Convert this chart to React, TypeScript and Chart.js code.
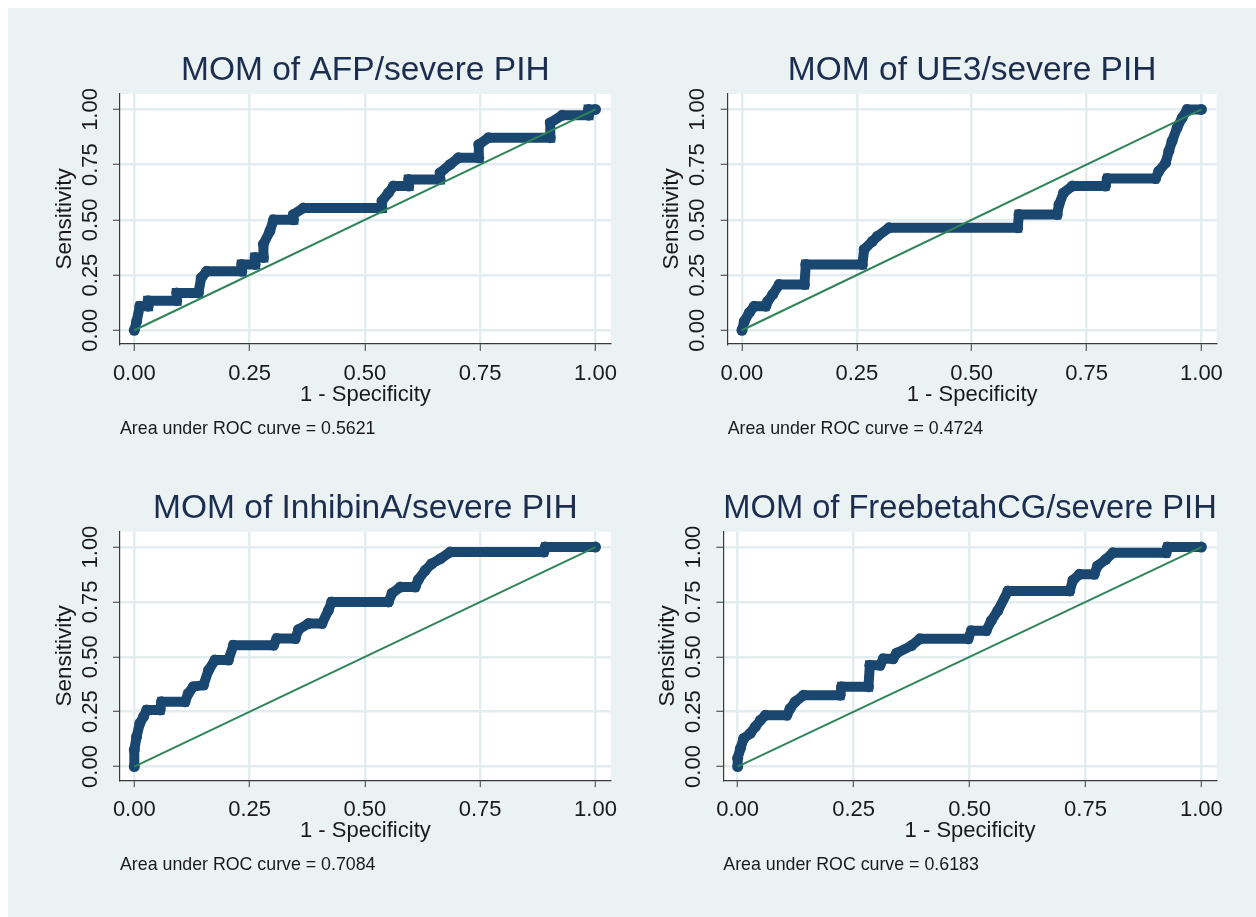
import React, { useEffect, useRef } from "react";
import { Chart, registerables } from "chart.js";

Chart.register(...registerables);
Chart.defaults.font.family = "'Liberation Sans', Arial, sans-serif";

// ---- data -------------------------------------------------------------
const MARKERS = ["AFP", "UE3", "InhibinA", "FreebetahCG"];
const AUC_VALUES = ["0.5621", "0.4724", "0.7084", "0.6183"];
const TICK_VALUES = [0, 0.25, 0.5, 0.75, 1];
const DIAGONAL_X = [0, 1];
const DIAGONAL_Y = [0, 1];

const AFP_FPR = [0, 0.005, 0.012, 0.03, 0.03, 0.092, 0.092, 0.139, 0.145, 0.157, 0.233, 0.233, 0.262, 0.262, 0.28, 0.28, 0.294, 0.302, 0.345, 0.345, 0.367, 0.537, 0.537, 0.551, 0.562, 0.595, 0.595, 0.663, 0.663, 0.685, 0.703, 0.747, 0.747, 0.768, 0.902, 0.902, 0.928, 0.985, 0.985, 1];
const AFP_SENS = [0, 0.04, 0.109, 0.109, 0.134, 0.134, 0.169, 0.169, 0.237, 0.267, 0.267, 0.298, 0.298, 0.33, 0.33, 0.39, 0.449, 0.5, 0.5, 0.524, 0.554, 0.554, 0.585, 0.622, 0.653, 0.653, 0.683, 0.683, 0.713, 0.751, 0.781, 0.781, 0.841, 0.872, 0.872, 0.94, 0.974, 0.974, 1, 1];

const UE3_FPR = [0, 0.005, 0.016, 0.027, 0.052, 0.056, 0.067, 0.081, 0.136, 0.139, 0.262, 0.266, 0.284, 0.295, 0.32, 0.6, 0.603, 0.686, 0.69, 0.7, 0.719, 0.791, 0.795, 0.9, 0.907, 0.922, 0.929, 0.936, 0.947, 0.958, 0.969, 1];
const UE3_SENS = [0, 0.04, 0.08, 0.109, 0.109, 0.131, 0.162, 0.207, 0.207, 0.298, 0.298, 0.366, 0.403, 0.426, 0.464, 0.464, 0.524, 0.524, 0.569, 0.622, 0.653, 0.653, 0.687, 0.687, 0.72, 0.758, 0.811, 0.856, 0.917, 0.962, 1, 1];

const INHIBINA_FPR = [0, 0, 0.005, 0.012, 0.02, 0.027, 0.056, 0.059, 0.11, 0.117, 0.128, 0.15, 0.161, 0.175, 0.204, 0.215, 0.302, 0.309, 0.349, 0.356, 0.378, 0.407, 0.421, 0.428, 0.551, 0.559, 0.577, 0.609, 0.616, 0.631, 0.645, 0.664, 0.685, 0.888, 0.891, 1];
const INHIBINA_SENS = [0, 0.076, 0.136, 0.197, 0.227, 0.258, 0.258, 0.295, 0.295, 0.333, 0.364, 0.371, 0.439, 0.485, 0.485, 0.553, 0.553, 0.583, 0.583, 0.624, 0.652, 0.652, 0.712, 0.75, 0.75, 0.79, 0.818, 0.818, 0.852, 0.894, 0.924, 0.947, 0.977, 0.977, 1, 1];

const FREEBHCG_FPR = [0, 0, 0.006, 0.013, 0.027, 0.038, 0.049, 0.06, 0.106, 0.113, 0.124, 0.142, 0.221, 0.224, 0.282, 0.285, 0.307, 0.314, 0.335, 0.343, 0.375, 0.393, 0.497, 0.504, 0.536, 0.547, 0.561, 0.583, 0.716, 0.723, 0.737, 0.769, 0.776, 0.794, 0.809, 0.924, 0.927, 1];
const FREEBHCG_SENS = [0, 0.038, 0.083, 0.128, 0.151, 0.181, 0.211, 0.234, 0.234, 0.264, 0.295, 0.325, 0.325, 0.363, 0.363, 0.461, 0.461, 0.491, 0.491, 0.517, 0.551, 0.582, 0.582, 0.619, 0.619, 0.665, 0.71, 0.8, 0.8, 0.849, 0.876, 0.876, 0.914, 0.944, 0.974, 0.974, 1, 1];

// ---- style ------------------------------------------------------------
const PAGE_BG = "#eaf2f3";
const GRID = "#e3ecef";
const AXIS = "#3a3a3a";
const NAVY = "#1a476f";
const GREEN = "#2f845a";
const TITLE_COLOR = "#1c2d4f";
const TEXT = "#1a1a1a";
const X_MIN = -0.031;
const X_MAX = 1.033;
const Y_MIN = -0.062;
const Y_MAX = 1.07;

type Pad = { left: number; right: number; top: number; bottom: number };
type PanelProps = {
  title: string;
  auc: string;
  fpr: number[];
  sens: number[];
  left: number;
  top: number;
  width: number;
  height: number;
  pad: Pad;
  titleTop: number;
  titleBottom: number;
};

const plotBackground = {
  id: "plotBackground",
  beforeDraw(chart: any) {
    const { ctx, chartArea: a } = chart;
    ctx.save();
    ctx.fillStyle = "#ffffff";
    ctx.fillRect(a.left, a.top, a.right - a.left, a.bottom - a.top);
    ctx.restore();
  },
};

function RocPanel(p: PanelProps) {
  const ref = useRef<HTMLCanvasElement>(null);
  useEffect(() => {
    const canvas = ref.current;
    if (!canvas) return;
    const chart = new Chart(canvas, {
      type: "scatter",
      data: {
        datasets: [
          {
            data: DIAGONAL_X.map((x, i) => ({ x, y: DIAGONAL_Y[i] })),
            showLine: true,
            borderColor: GREEN,
            borderWidth: 2,
            pointRadius: 0,
          },
          {
            data: p.fpr.map((x, i) => ({ x, y: p.sens[i] })),
            showLine: true,
            borderColor: NAVY,
            borderWidth: 10,
            borderJoinStyle: "miter",
            pointRadius: 5.5,
            pointBackgroundColor: NAVY,
            pointBorderWidth: 0,
          },
        ],
      } as any,
      options: {
        responsive: false,
        animation: false,
        devicePixelRatio: 1,
        events: [],
        layout: { padding: p.pad },
        plugins: {
          legend: { display: false },
          tooltip: { enabled: false },
          title: {
            display: true,
            text: p.title,
            fullSize: false,
            color: TITLE_COLOR,
            font: { size: 33.5, weight: "normal" },
            padding: { top: p.titleTop, bottom: p.titleBottom },
          },
          subtitle: {
            display: true,
            text: p.auc,
            position: "bottom",
            align: "start",
            fullSize: false,
            color: TEXT,
            font: { size: 17.8, weight: "normal" },
            padding: { top: 10.4, bottom: 0 },
          },
        },
        scales: {
          x: {
            type: "linear",
            min: X_MIN,
            max: X_MAX,
            bounds: "data",
            afterBuildTicks: (s: any) => {
              s.ticks = TICK_VALUES.map((v) => ({ value: v }));
            },
            afterFit: (s: any) => {
              s.height = 63.7;
              s.paddingLeft = 0;
              s.paddingRight = 0;
              s.paddingTop = 0;
              s.paddingBottom = 0;
            },
            ticks: {
              autoSkip: false,
              minRotation: 0,
              maxRotation: 0,
              padding: 10,
              color: TEXT,
              font: { size: 22 },
              callback: (v: any) => Number(v).toFixed(2),
            },
            grid: { color: GRID, lineWidth: 2.5, tickColor: AXIS, tickWidth: 1, tickLength: 7 },
            border: { color: AXIS, width: 1.2 },
            title: {
              display: true,
              text: "1 - Specificity",
              color: TEXT,
              font: { size: 22 },
              padding: { top: 0, bottom: 0 },
            },
          },
          y: {
            type: "linear",
            min: Y_MIN,
            max: Y_MAX,
            bounds: "data",
            afterBuildTicks: (s: any) => {
              s.ticks = TICK_VALUES.map((v) => ({ value: v }));
            },
            afterFit: (s: any) => {
              s.width = 80;
              s.paddingLeft = 0;
              s.paddingRight = 0;
              s.paddingTop = 0;
              s.paddingBottom = 0;
            },
            ticks: {
              autoSkip: false,
              minRotation: 90,
              maxRotation: 90,
              crossAlign: "center",
              padding: 1,
              color: TEXT,
              font: { size: 22 },
              callback: (v: any) => Number(v).toFixed(2),
            },
            grid: { color: GRID, lineWidth: 2.5, tickColor: AXIS, tickWidth: 1, tickLength: 7 },
            border: { color: AXIS, width: 1.2 },
            title: {
              display: true,
              text: "Sensitivity",
              color: TEXT,
              font: { size: 22.5 },
              padding: { top: 11, bottom: 0 },
            },
          },
        },
      } as any,
      plugins: [plotBackground],
    });
    return () => chart.destroy();
  }, []);
  return (
    <canvas
      ref={ref}
      width={p.width}
      height={p.height}
      style={{
        position: "absolute",
        left: p.left,
        top: p.top,
        width: p.width,
        height: p.height,
        display: "block",
      }}
    />
  );
}

const SERIES = [
  { fpr: AFP_FPR, sens: AFP_SENS },
  { fpr: UE3_FPR, sens: UE3_SENS },
  { fpr: INHIBINA_FPR, sens: INHIBINA_SENS },
  { fpr: FREEBHCG_FPR, sens: FREEBHCG_SENS },
];

const PANEL_BOXES = [
  { left: 0, top: 0, width: 620, height: 447, pad: { left: 32, right: 17.3, top: 0, bottom: 15.6 }, titleTop: 42.7, titleBottom: 3.1 },
  { left: 620, top: 0, width: 628, height: 447, pad: { left: 19.7, right: 39.4, top: 0, bottom: 15.6 }, titleTop: 42.7, titleBottom: 3.1 },
  { left: 0, top: 447, width: 620, height: 462, pad: { left: 32, right: 17.3, top: 0, bottom: 41.4 }, titleTop: 33.2, titleBottom: 3.3 },
  { left: 620, top: 447, width: 628, height: 462, pad: { left: 15.3, right: 39.3, top: 0, bottom: 41.4 }, titleTop: 33.2, titleBottom: 3.3 },
];

export default function App() {
  return (
    <div
      style={{
        position: "absolute",
        left: 8,
        top: 8,
        width: 1248,
        height: 909,
        background: PAGE_BG,
        overflow: "hidden",
      }}
    >
      {MARKERS.map((m, i) => (
        <RocPanel
          key={m}
          title={`MOM of ${m}/severe PIH`}
          auc={`Area under ROC curve = ${AUC_VALUES[i]}`}
          fpr={SERIES[i].fpr}
          sens={SERIES[i].sens}
          {...PANEL_BOXES[i]}
        />
      ))}
    </div>
  );
}
